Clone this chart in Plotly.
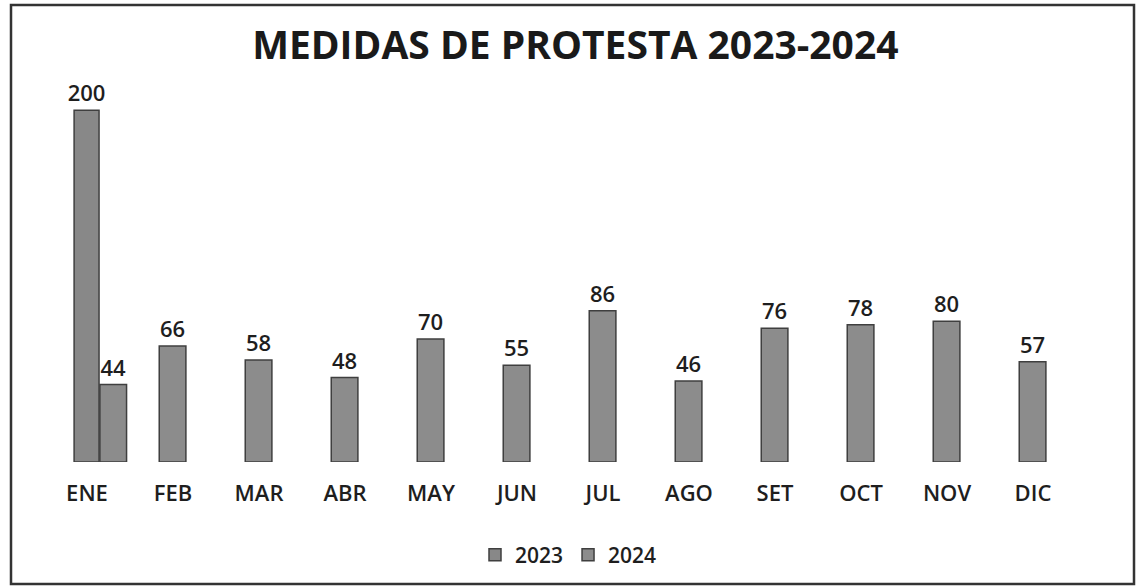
import plotly.graph_objects as go

months = ["ENE", "FEB", "MAR", "ABR", "MAY", "JUN", "JUL", "AGO", "SET", "OCT", "NOV", "DIC"]
values_2023 = [200, None, None, None, None, None, None, None, None, None, None, None]
values_2024 = [44, 66, 58, 48, 70, 55, 86, 46, 76, 78, 80, 57]

bar_fill = "#8c8c8c"
bar_edge = "#3f3f3f"
label_font = dict(family="Open Sans", size=22, color="#1e1e1e", weight=600)

# 2024 bars sit centred on their month, except ENE which sits beside the 2023 bar
offsets_2024 = [0.15] + [-0.16] * (len(months) - 1)

fig = go.Figure()
fig.add_trace(go.Bar(
    name="2023", x=months, y=values_2023,
    width=0.29, offset=-0.15,
    marker=dict(color="#888888", line=dict(color=bar_edge, width=1.5)),
    text=[str(v) if v is not None else "" for v in values_2023],
    textposition="outside", textfont=label_font, cliponaxis=False,
    constraintext="none",
))
fig.add_trace(go.Bar(
    name="2024", x=months, y=values_2024,
    width=0.31, offset=offsets_2024,
    marker=dict(color=bar_fill, line=dict(color=bar_edge, width=1.5)),
    text=[str(v) for v in values_2024],
    textposition="outside", textfont=label_font, cliponaxis=False,
    constraintext="none",
))

L, R, T, B = 44, 61, 60, 126
W, H = 1137, 588
pw, ph = W - L - R, H - T - B

def px_x(x):
    return (x - L) / pw

def px_y(y):
    return (H - B - y) / ph

fig.update_layout(
    width=W, height=H,
    margin=dict(l=L, r=R, t=T, b=B, autoexpand=False),
    paper_bgcolor="white", plot_bgcolor="white",
    barmode="overlay",
    title=dict(text="<b>MEDIDAS DE PROTESTA 2023-2024</b>", x=0.506, xanchor="center",
               xref="container", yref="container",
               y=1 - 45 / H, yanchor="middle",
               font=dict(family="Open Sans", size=39, color="#1a1a1a")),
    xaxis=dict(showgrid=False, showline=False, ticks="", zeroline=False,
               tickfont=dict(family="Open Sans", size=22, color="#1e1e1e", weight=600),
               ticklabelstandoff=16,
               range=[-0.5, 11.5]),
    yaxis=dict(visible=False, range=[0, 228.6]),
    showlegend=True,
    legend=dict(orientation="h", x=0.5, xanchor="center", xref="container",
                yref="container", y=1 - 555 / H, yanchor="middle",
                font=dict(family="Open Sans", size=21, color="#1e1e1e", weight=600),
                itemwidth=30, traceorder="normal"),
    shapes=[dict(type="rect", xref="paper", yref="paper",
                 x0=px_x(11), x1=px_x(1134), y0=px_y(584), y1=px_y(5),
                 line=dict(color="#333333", width=2.5))],
)

fig.write_html("out.html", config={"displayModeBar": False},
               post_script="document.body.style.margin='0';")
